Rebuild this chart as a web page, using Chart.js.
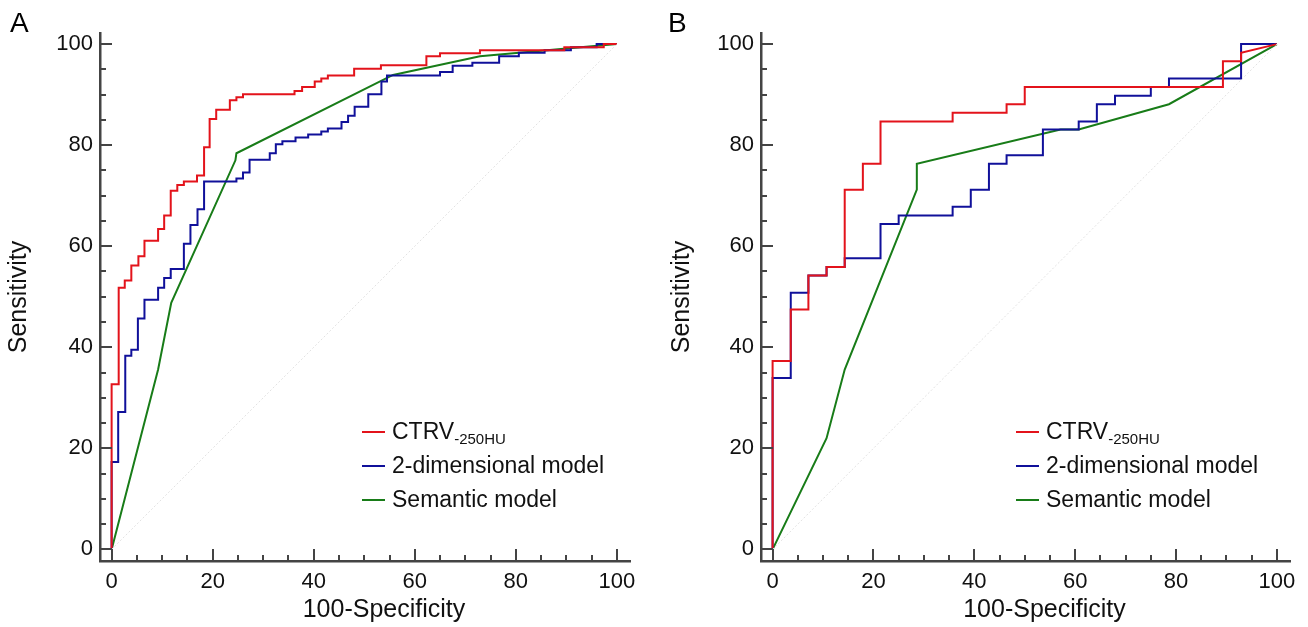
<!DOCTYPE html>
<html>
<head>
<meta charset="utf-8">
<script src="https://cdn.jsdelivr.net/npm/chart.js@4.4.1/dist/chart.umd.min.js"></script>
<style>
    body { margin: 0; background: #fff; }
    .panel { position: absolute; top: 0; width: 654px; height: 627px; }
    #pa { left: 0; }
    #pb { left: 654px; }
</style>
</head>
<body>
<div class="panel" id="pa"><canvas id="chartA"></canvas></div>
<div class="panel" id="pb"><canvas id="chartB"></canvas></div>
<script>
// tick values
const labelTicks = [0, 20, 40, 60, 80, 100];
const minorTicks = [0, 5, 10, 15, 20, 25, 30, 35, 40, 45, 50, 55, 60, 65, 70, 75, 80, 85, 90, 95, 100];

const seriesNames = ['CTRV', '2-dimensional model', 'Semantic model'];
const ctrvSub = '-250HU';
const xTitle = '100-Specificity';
const yTitle = 'Sensitivity';

// Panel A - 100-Specificity (x) / Sensitivity (y)
const aCtrvX = [0, 0, 1.4, 1.4, 2.6, 2.6, 3.9, 3.9, 5.3, 5.3, 6.5, 6.5, 9.2, 9.2, 10.4, 10.4, 11.7, 11.7, 13.0, 13.0, 14.3, 14.3, 16.9, 16.9, 18.3, 18.3, 19.4, 19.4, 20.7, 20.7, 23.4, 23.4, 24.7, 24.7, 26.0, 26.0, 36.2, 36.2, 37.7, 37.7, 40.2, 40.2, 41.5, 41.5, 42.8, 42.8, 48.0, 48.0, 53.3, 53.3, 62.3, 62.3, 65.0, 65.0, 72.9, 72.9, 89.6, 89.6, 97.4, 97.4, 100];
const aCtrvY = [0, 32.7, 32.7, 51.8, 51.8, 53.2, 53.2, 56.2, 56.2, 58.0, 58.0, 61.1, 61.1, 63.4, 63.4, 66.1, 66.1, 71.0, 71.0, 72.1, 72.1, 72.8, 72.8, 74.0, 74.0, 79.6, 79.6, 85.2, 85.2, 87.0, 87.0, 88.9, 88.9, 89.5, 89.5, 90.1, 90.1, 90.7, 90.7, 91.5, 91.5, 92.6, 92.6, 93.2, 93.2, 93.8, 93.8, 95.1, 95.1, 95.8, 95.8, 97.6, 97.6, 98.2, 98.2, 98.8, 98.8, 99.4, 99.4, 100, 100];

const aTwoDX = [0, 0, 1.3, 1.3, 2.7, 2.7, 3.9, 3.9, 5.2, 5.2, 6.5, 6.5, 9.2, 9.2, 10.4, 10.4, 11.7, 11.7, 14.3, 14.3, 15.6, 15.6, 17.0, 17.0, 18.3, 18.3, 24.7, 24.7, 26.0, 26.0, 27.3, 27.3, 31.3, 31.3, 32.5, 32.5, 33.8, 33.8, 36.4, 36.4, 38.9, 38.9, 41.5, 41.5, 42.8, 42.8, 45.5, 45.5, 46.8, 46.8, 48.1, 48.1, 50.8, 50.8, 53.4, 53.4, 54.5, 54.5, 65.0, 65.0, 67.5, 67.5, 71.4, 71.4, 76.7, 76.7, 80.6, 80.6, 85.7, 85.7, 90.9, 90.9, 96.0, 96.0, 100];
const aTwoDY = [0, 17.3, 17.3, 27.2, 27.2, 38.3, 38.3, 39.5, 39.5, 45.7, 45.7, 49.4, 49.4, 51.8, 51.8, 53.7, 53.7, 55.5, 55.5, 60.5, 60.5, 64.2, 64.2, 67.3, 67.3, 72.8, 72.8, 73.4, 73.4, 74.6, 74.6, 77.1, 77.1, 78.4, 78.4, 80.2, 80.2, 80.8, 80.8, 81.5, 81.5, 82.1, 82.1, 82.7, 82.7, 83.3, 83.3, 84.6, 84.6, 85.8, 85.8, 87.6, 87.6, 90.1, 90.1, 92.6, 92.6, 93.8, 93.8, 94.5, 94.5, 95.7, 95.7, 96.3, 96.3, 97.6, 97.6, 98.3, 98.3, 98.8, 98.8, 99.4, 99.4, 100, 100];

const aSemX = [0, 9.2, 11.8, 24.5, 24.7, 55.7, 72.9, 100];
const aSemY = [0, 35.6, 48.8, 77.0, 78.4, 93.9, 97.6, 100];

// Panel B
const bCtrvX = [0, 0, 3.6, 3.6, 7.1, 7.1, 10.7, 10.7, 14.3, 14.3, 17.9, 17.9, 21.4, 21.4, 35.7, 35.7, 46.4, 46.4, 50.0, 50.0, 89.3, 89.3, 92.9, 92.9, 100];
const bCtrvY = [0, 37.3, 37.3, 47.5, 47.5, 54.2, 54.2, 55.9, 55.9, 71.2, 71.2, 76.3, 76.3, 84.7, 84.7, 86.4, 86.4, 88.1, 88.1, 91.5, 91.5, 96.6, 96.6, 98.3, 100];

const bTwoDX = [0, 0, 3.6, 3.6, 7.1, 7.1, 10.7, 10.7, 14.3, 14.3, 21.4, 21.4, 25.0, 25.0, 35.7, 35.7, 39.3, 39.3, 42.9, 42.9, 46.4, 46.4, 53.6, 53.6, 60.7, 60.7, 64.3, 64.3, 67.9, 67.9, 75.0, 75.0, 78.6, 78.6, 92.9, 92.9, 100];
const bTwoDY = [0, 33.9, 33.9, 50.8, 50.8, 54.2, 54.2, 55.9, 55.9, 57.6, 57.6, 64.4, 64.4, 66.1, 66.1, 67.8, 67.8, 71.2, 71.2, 76.3, 76.3, 78.0, 78.0, 83.1, 83.1, 84.7, 84.7, 88.1, 88.1, 89.8, 89.8, 91.5, 91.5, 93.2, 93.2, 100, 100];

const bSemX = [0, 10.7, 14.3, 28.6, 28.6, 57.1, 60.7, 78.6, 100];
const bSemY = [0, 22.0, 35.6, 71.2, 76.3, 83.1, 83.1, 88.1, 100];

const diagX = [0, 100];
const diagY = [0, 100];

const COLORS = ['#e3131b', '#10109a', '#187c18'];
const FONT = "'Liberation Sans', Arial, sans-serif";

const pts = (xs, ys) => xs.map((x, i) => ({ x: x, y: ys[i] }));

// inward tick marks, x title, panel letter, legend
const rocDecor = {
    id: 'rocDecor',
    afterDraw(chart, args, opts) {
        const { ctx, chartArea, scales } = chart;
        ctx.save();
        ctx.strokeStyle = '#444';
        ctx.lineWidth = 2;
        minorTicks.forEach(v => {
            const len = v % 20 === 0 ? 12 : 6;
            const px = Math.round(scales.x.getPixelForValue(v));
            ctx.beginPath();
            ctx.moveTo(px, chartArea.bottom);
            ctx.lineTo(px, chartArea.bottom - len);
            ctx.stroke();
            const py = Math.round(scales.y.getPixelForValue(v));
            ctx.beginPath();
            ctx.moveTo(chartArea.left, py);
            ctx.lineTo(chartArea.left + len, py);
            ctx.stroke();
        });

        ctx.fillStyle = '#111';
        ctx.textBaseline = 'alphabetic';

        // x axis title (sits a little right of centre in the original)
        ctx.font = '25px ' + FONT;
        ctx.textAlign = 'center';
        ctx.fillText(xTitle, (chartArea.left + chartArea.right) / 2 + 19, 617);

        // panel letter
        ctx.fillStyle = '#000';
        ctx.font = '28px ' + FONT;
        ctx.textAlign = 'left';
        ctx.fillText(opts.letter, opts.letterX, 32);

        // legend
        const lx = 362, ly = [432, 466, 500];
        seriesNames.forEach((name, i) => {
            ctx.strokeStyle = COLORS[i];
            ctx.lineWidth = 2;
            ctx.beginPath();
            ctx.moveTo(lx, ly[i]);
            ctx.lineTo(lx + 23, ly[i]);
            ctx.stroke();
            ctx.fillStyle = '#111';
            ctx.font = '23px ' + FONT;
            ctx.fillText(name, lx + 30, ly[i] + 7);
            if (i === 0) {
                const w = ctx.measureText(name).width;
                ctx.font = '15px ' + FONT;
                ctx.fillText(ctrvSub, lx + 30 + w, ly[i] + 12);
            }
        });
        ctx.restore();
    }
};

function makeChart(id, letter, letterX, series, padLeft, yWidth, padRight) {
    const datasets = [{
        data: pts(diagX, diagY),
        borderColor: '#e2e2e2',
        borderWidth: 1,
        borderDash: [2, 2]
    }].concat(series.map((s, i) => ({
        label: seriesNames[i],
        data: pts(s[0], s[1]),
        borderColor: COLORS[i],
        borderWidth: 2
    })));

    const axisCommon = {
        type: 'linear',
        grid: { display: false, drawTicks: false },
        border: { display: true, color: '#444', width: 2.5 },
        afterBuildTicks: scale => { scale.ticks = minorTicks.map(v => ({ value: v })); },
        ticks: {
            autoSkip: false,
            maxRotation: 0,
            color: '#111',
            font: { family: FONT, size: 22 },
            callback: v => labelTicks.includes(v) ? String(v) : ''
        }
    };

    return new Chart(document.getElementById(id), {
        type: 'line',
        data: { datasets: datasets },
        plugins: [rocDecor],
        options: {
            responsive: true,
            maintainAspectRatio: false,
            animation: false,
            parsing: false,
            layout: { padding: { top: 33, right: padRight, bottom: 0, left: padLeft } },
            elements: { point: { radius: 0 }, line: { tension: 0 } },
            plugins: {
                legend: { display: false },
                tooltip: { enabled: false },
                rocDecor: { letter: letter, letterX: letterX }
            },
            scales: {
                x: Object.assign({}, axisCommon, {
                    min: -2.3, max: 102.6,
                    ticks: Object.assign({}, axisCommon.ticks, { padding: 8 }),
                    afterFit: s => { s.height = 66; }
                }),
                y: Object.assign({}, axisCommon, {
                    min: -2.3, max: 102.2,
                    ticks: Object.assign({}, axisCommon.ticks, { padding: 7 }),
                    title: { display: true, text: yTitle, color: '#111', font: { family: FONT, size: 25 } },
                    afterFit: s => { s.width = yWidth; }
                })
            }
        }
    });
}

makeChart('chartA', 'A', 10, [[aCtrvX, aCtrvY], [aTwoDX, aTwoDY], [aSemX, aSemY]], 0, 100, 24);
makeChart('chartB', 'B', 14, [[bCtrvX, bCtrvY], [bTwoDX, bTwoDY], [bSemX, bSemY]], 9, 98, 18);
</script>
</body>
</html>
